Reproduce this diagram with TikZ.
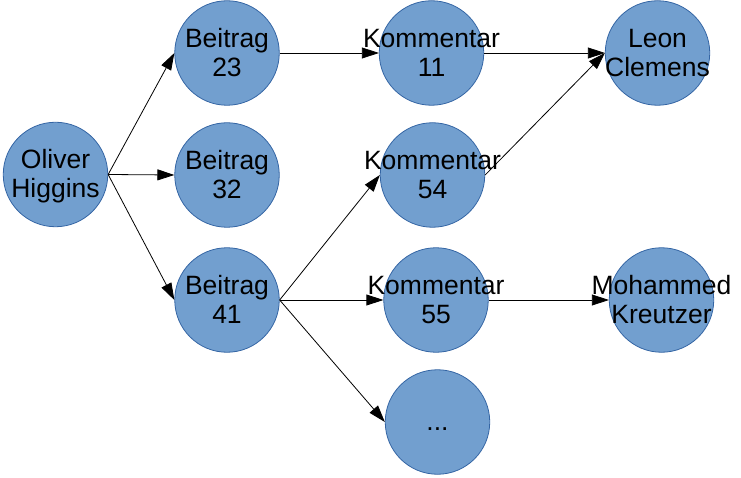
\documentclass[tikz,border=0pt]{standalone}
\usepackage{fontspec}
\setmainfont{Liberation Sans}
\usetikzlibrary{arrows.meta}
\definecolor{cfill}{HTML}{729FCF}
\definecolor{cline}{HTML}{3465A4}
\newcommand{\twol}[2]{\strut#1\\\strut#2}
\tikzset{
  circ/.style={circle, fill=cfill, draw=cline, line width=0.8pt, minimum size=104.5pt, inner sep=0pt},
  txt/.style={align=center, font=\fontsize{26.5pt}{29pt}\selectfont, text=black, inner sep=0pt, yshift=-2.8pt},
  edge/.style={draw=black, line width=0.8pt, -{Triangle[length=17pt,width=11pt]}}
}
\begin{document}
\begin{tikzpicture}[x=1pt,y=-1pt]
\useasboundingbox (0,0) rectangle (741,478);
\node[circ, label={[txt]center:\twol{Oliver}{Higgins}}] (oh) at (55.5,174.5) {};
\node[circ, label={[txt]center:\twol{Beitrag}{23}}] (b23) at (227,53) {};
\node[circ, label={[txt]center:\twol{Beitrag}{32}}] (b32) at (227,175) {};
\node[circ, label={[txt]center:\twol{Beitrag}{41}}] (b41) at (227,300) {};
\node[circ, label={[txt]center:\twol{Kommentar}{11}}] (k11) at (431.5,53) {};
\node[circ, label={[txt]center:\twol{Kommentar}{54}}] (k54) at (432.5,175) {};
\node[circ, label={[txt]center:\twol{Kommentar}{55}}] (k55) at (436,300) {};
\node[circ, label={[txt]center:\strut...}] (dots) at (437.5,422) {};
\node[circ, label={[txt]center:\twol{Leon}{Clemens}}] (leon) at (657.5,53) {};
\node[circ, label={[txt]center:\twol{Mohammed}{Kreutzer}}] (moh) at (661.5,300) {};
\draw[edge] (oh.east) -- (b23.west);
\draw[edge] (oh.east) -- (b32.west);
\draw[edge] (oh.east) -- (b41.west);
\draw[edge] (b23.east) -- (k11.west);
\draw[edge] (b41.east) -- (k54.west);
\draw[edge] (b41.east) -- (k55.west);
\draw[edge] (b41.east) -- (dots.west);
\draw[edge] (k11.east) -- (leon.west);
\draw[edge] (k54.east) -- (leon.west);
\draw[edge] (k55.east) -- (moh.west);
\end{tikzpicture}
\end{document}
